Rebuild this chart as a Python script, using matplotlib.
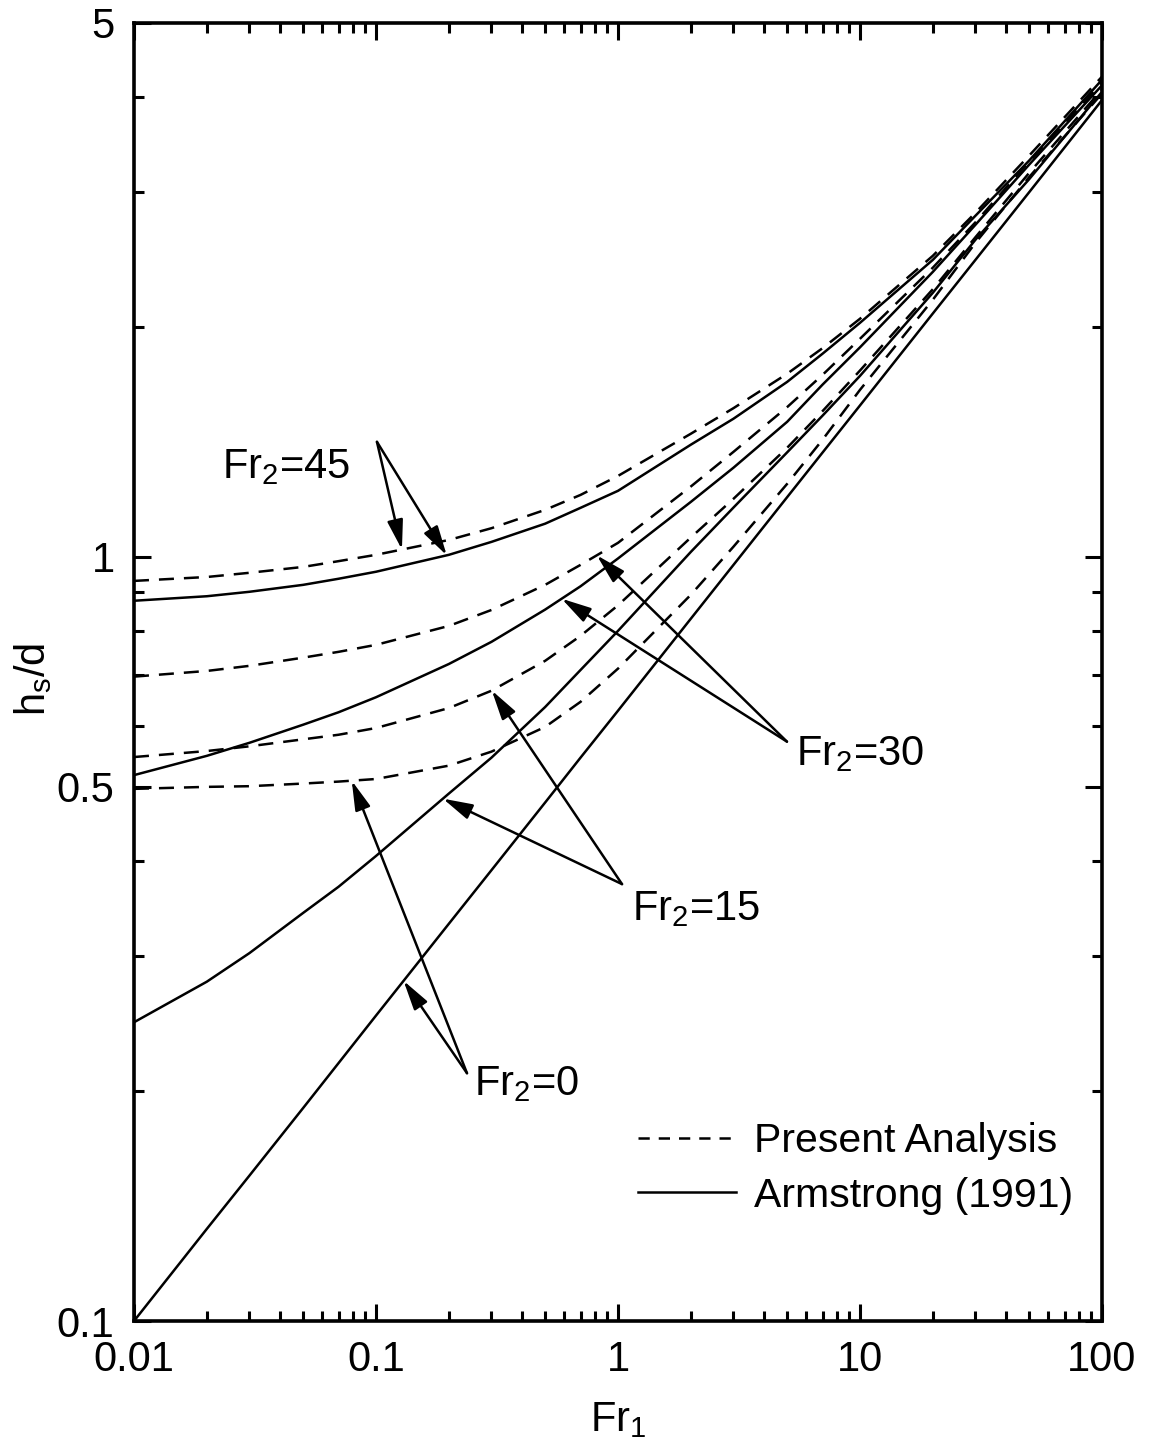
import numpy as np
import matplotlib
matplotlib.use("Agg")
import matplotlib.pyplot as plt
from matplotlib.lines import Line2D
from matplotlib.ticker import FixedLocator, NullFormatter

plt.rcParams['font.family'] = 'Liberation Sans'
plt.rcParams['mathtext.fontset'] = 'custom'
plt.rcParams['mathtext.rm'] = 'Liberation Sans'
plt.rcParams['mathtext.it'] = 'Liberation Sans:italic'

fr1 = [0.01, 0.02, 0.03, 0.05, 0.07, 0.1, 0.2, 0.3, 0.5, 0.7,
       1, 2, 3, 5, 7, 10, 20, 30, 50, 100]

# hs/d, present analysis (dashed)
present_45 = [0.930, 0.941, 0.953, 0.970, 0.987, 1.006, 1.052, 1.090, 1.152, 1.205,
              1.276, 1.449, 1.565, 1.736, 1.875, 2.049, 2.477, 2.820, 3.35, 4.25]
present_30 = [0.697, 0.709, 0.720, 0.738, 0.751, 0.767, 0.812, 0.852, 0.919, 0.976,
              1.043, 1.236, 1.372, 1.570, 1.730, 1.929, 2.390, 2.740, 3.29, 4.17]
present_15 = [0.547, 0.557, 0.565, 0.577, 0.585, 0.597, 0.634, 0.668, 0.731, 0.788,
              0.864, 1.060, 1.191, 1.389, 1.551, 1.753, 2.240, 2.620, 3.18, 4.09]
present_0 = [0.497, 0.500, 0.501, 0.505, 0.508, 0.512, 0.533, 0.556, 0.599, 0.646,
             0.714, 0.892, 1.031, 1.246, 1.423, 1.654, 2.170, 2.576, 3.14, 4.04]

# hs/d, Armstrong (1991) (solid)
armstrong_45 = [0.876, 0.888, 0.900, 0.919, 0.936, 0.956, 1.006, 1.046, 1.105, 1.159,
                1.220, 1.402, 1.516, 1.694, 1.844, 2.024, 2.447, 2.795, 3.30, 4.21]
armstrong_30 = [0.518, 0.549, 0.571, 0.603, 0.626, 0.655, 0.724, 0.774, 0.853, 0.915,
                0.995, 1.180, 1.308, 1.502, 1.680, 1.880, 2.360, 2.720, 3.26, 4.14]
armstrong_15 = [0.246, 0.278, 0.303, 0.342, 0.370, 0.406, 0.490, 0.546, 0.636, 0.711,
                0.800, 1.015, 1.160, 1.370, 1.530, 1.725, 2.216, 2.600, 3.12, 4.06]
armstrong_0 = [0.100, 0.132, 0.155, 0.190, 0.2175, 0.251, 0.331, 0.389, 0.477, 0.546,
               0.629, 0.830, 0.976, 1.197, 1.369, 1.578, 2.082, 2.447, 3.00, 3.96]

fr2_labels = ['Fr$_2$=45', 'Fr$_2$=30', 'Fr$_2$=15', 'Fr$_2$=0']
present = [present_45, present_30, present_15, present_0]
armstrong = [armstrong_45, armstrong_30, armstrong_15, armstrong_0]

# where each arrow touches its curves (Fr1 of the tip), label text and arrow origin
tip_present = [0.128, 0.817, 0.301, 0.0794]
tip_armstrong = [0.196, 0.585, 0.189, 0.130]
arrow_origin = [(0.1009, 1.414), (4.99, 0.573), (1.039, 0.373), (0.2377, 0.211)]
text_pos = [(0.0231, 1.269), (5.44, 0.534), (1.143, 0.335), (0.254, 0.1977)]

x_major = [0.01, 0.1, 1, 10, 100]
x_major_labels = ['0.01', '0.1', '1', '10', '100']
y_major = [0.1, 0.5, 1, 5]
y_major_labels = ['0.1', '0.5', '1', '5']
y_minor = [0.2, 0.3, 0.4, 0.6, 0.7, 0.8, 0.9, 2, 3, 4]


def on_curve(x, ys):
    return 10 ** np.interp(np.log10(x), np.log10(fr1), np.log10(ys))


fig = plt.figure(figsize=(11.53, 14.52), dpi=100)
ax = fig.add_axes([0.1162, 0.0902, 0.8396, 0.8942])
ax.set_xscale('log')
ax.set_yscale('log')

dash = (0, (6, 4))
lw = 1.8
for i in range(4):
    ax.plot(fr1, present[i], color='k', ls=dash, lw=lw)
    ax.plot(fr1, armstrong[i], color='k', lw=lw)

arrow_kw = dict(arrowstyle='-|>,head_length=0.45,head_width=0.12', color='k',
                lw=1.8, mutation_scale=40, shrinkA=0, shrinkB=0)
for i in range(4):
    ox, oy = arrow_origin[i]
    for tx, ys in ((tip_present[i], present[i]), (tip_armstrong[i], armstrong[i])):
        ax.annotate('', xy=(tx, on_curve(tx, ys)), xytext=(ox, oy), arrowprops=arrow_kw)
    ax.text(text_pos[i][0], text_pos[i][1], fr2_labels[i], fontsize=30,
            ha='left', va='baseline')

ax.set_xlim(0.01, 100)
ax.set_ylim(0.1, 5)

ax.xaxis.set_major_locator(FixedLocator(x_major))
ax.xaxis.set_minor_locator(FixedLocator([m * d for d in [0.01, 0.1, 1, 10] for m in range(2, 10)]))
ax.set_xticklabels(x_major_labels)
ax.xaxis.set_minor_formatter(NullFormatter())
ax.yaxis.set_major_locator(FixedLocator(y_major))
ax.yaxis.set_minor_locator(FixedLocator(y_minor))
ax.set_yticklabels(y_major_labels)
ax.yaxis.set_minor_formatter(NullFormatter())

ax.tick_params(which='both', direction='in', top=True, right=True, width=2.2,
               labelsize=30, pad=14)
ax.tick_params(which='major', length=12)
ax.tick_params(which='minor', length=7)
for sp in ax.spines.values():
    sp.set_linewidth(2.6)

ax.set_xlabel('Fr$_1$', fontsize=30)
ax.xaxis.set_label_coords(0.5, -0.061)
ax.set_ylabel(r'h$_\mathrm{s}$/d', fontsize=30)
ax.yaxis.set_label_coords(-0.082, 0.494)

# legend samples: the dashed one has finer dashes, as in the original key
h_dash = Line2D([], [], color='k', lw=lw, ls=(0, (4.5, 3.6)))
h_solid = Line2D([], [], color='k', lw=lw)
ax.legend([h_dash, h_solid], ['Present Analysis', 'Armstrong (1991)'],
          loc='center left', bbox_to_anchor=(0.5207, 0.1175), frameon=False,
          fontsize=29.5, handlelength=2.4, handletextpad=0.43, labelspacing=0.4,
          borderpad=0, borderaxespad=0)

fig.savefig('out.png', dpi=100)
